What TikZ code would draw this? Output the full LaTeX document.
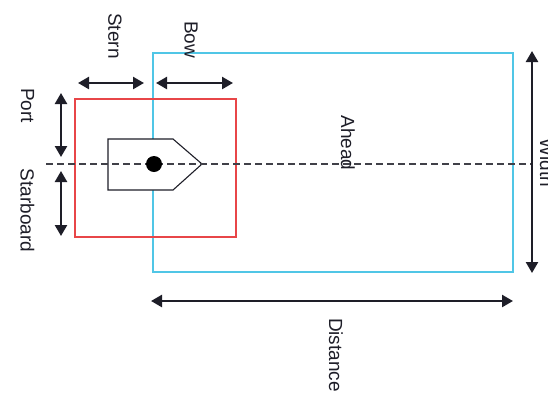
\documentclass[tikz,border=0pt]{standalone}
\usepackage{fontspec}
\setmainfont{Liberation Sans}
\usetikzlibrary{arrows.meta}
\definecolor{zonecyan}{RGB}{80,198,230}
\definecolor{zonered}{RGB}{232,70,72}
\definecolor{inkc}{RGB}{30,30,40}
\begin{document}
\begin{tikzpicture}[x=1pt,y=-1pt,
  lbl/.style={font=\fontsize{19}{22}\selectfont, text=inkc, rotate=-90, inner sep=0pt},
  dimarrow/.style={line width=2.4pt, draw=inkc, {Triangle[length=11pt,width=12pt]}-{Triangle[length=11pt,width=12pt]}},
  zonebox/.style={line width=1.8pt},
  shipshape/.style={draw=inkc, line width=1.1pt, fill=white},
  centerline/.style={draw=inkc!85, line width=1.2pt, dash pattern=on 7pt off 4pt}]
\clip (0,0) rectangle (548,392);
\fill[white] (0,0) rectangle (548,392);
% zones
\node[draw=zonecyan, zonebox, minimum width=360pt, minimum height=219pt, inner sep=0pt, anchor=north west] (ahead) at (152,52) {};
\node[draw=zonered, zonebox, minimum width=161pt, minimum height=138pt, inner sep=0pt, anchor=north west] (safe) at (74,98) {};
% ship
\draw[shipshape] (108,139) coordinate (s1) -- (173,139) coordinate (s2) -- (202,164) coordinate (s3) -- (173,190) coordinate (s4) -- (108,190) coordinate (s5) -- cycle;
% centre line
\coordinate (cl1) at (46,164);
\coordinate (cl2) at (532,164);
\draw[centerline] (cl1) -- (cl2);
\node[circle, fill=black, minimum size=16pt, inner sep=0pt] (dot) at (154,164) {};
% dimension arrows
\coordinate (st1) at (78,83);  \coordinate (st2) at (144,83);
\coordinate (bw1) at (156,83); \coordinate (bw2) at (233,83);
\coordinate (pt1) at (61,93);  \coordinate (pt2) at (61,157);
\coordinate (sb1) at (61,171); \coordinate (sb2) at (61,236);
\coordinate (wd1) at (532,51); \coordinate (wd2) at (532,273);
\coordinate (ds1) at (151,301); \coordinate (ds2) at (513,301);
\draw[dimarrow] (st1) -- (st2);
\draw[dimarrow] (bw1) -- (bw2);
\draw[dimarrow] (pt1) -- (pt2);
\draw[dimarrow] (sb1) -- (sb2);
\draw[dimarrow] (wd1) -- (wd2);
\draw[dimarrow] (ds1) -- (ds2);
% labels
\node[lbl] (tstern) at (115,36) {Stern};
\node[lbl] (tbow) at (191,39.5) {Bow};
\node[lbl] (tport) at (27.5,105.5) {Port};
\node[lbl] (tstar) at (27.5,210.5) {Starboard};
\node[lbl] (tahead) at (348,143) {Ahead};
\node[lbl] (twidth) at (547,163) {Width};
\node[lbl] (tdist) at (336,355) {Distance};
\end{tikzpicture}
\end{document}
